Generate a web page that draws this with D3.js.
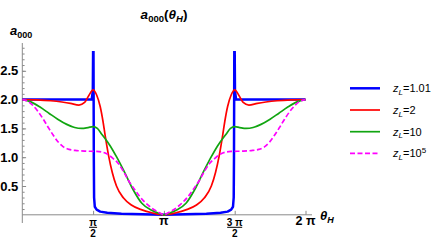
<!DOCTYPE html>
<html>
<head>
<meta charset="utf-8">
<script src="https://cdn.jsdelivr.net/npm/d3@7"></script>
<style>
  body { margin: 0; background: #fff; }
  text { font-family: "Liberation Sans", Arial, sans-serif; fill: #000; }
</style>
</head>
<body>
<svg width="442" height="245"></svg>
<script>
// theta is stored in units of pi (0..2)
var blueT  = [0, 0.49, 0.498, 0.502, 0.505, 0.507, 0.512, 0.525, 0.55, 0.6, 0.7, 0.85, 1.0,
              1.15, 1.3, 1.4, 1.45, 1.475, 1.488, 1.493, 1.495, 1.498, 1.502, 1.51, 2.0];
var blueV  = [2.0, 2.0, 2.15, 3.5, 1.0, 0.3, 0.14, 0.09, 0.055, 0.035, 0.02, 0.008, 0.0,
              0.008, 0.02, 0.035, 0.055, 0.09, 0.14, 0.3, 1.0, 3.5, 2.15, 2.0, 2.0];

var redT   = [0, 0.1, 0.2, 0.28, 0.34, 0.4, 0.44, 0.47, 0.5, 0.525, 0.55, 0.57, 0.585, 0.61, 0.635, 0.665, 0.715, 0.77, 0.845, 0.915, 1.0,
              1.085, 1.155, 1.23, 1.285, 1.335, 1.365, 1.39, 1.415, 1.43, 1.45, 1.475, 1.5, 1.53, 1.56, 1.6, 1.66, 1.72, 1.8, 1.9, 2.0];
var redV   = [2.0, 1.995, 1.98, 1.958, 1.935, 1.905, 1.95, 2.07, 2.17, 2.08, 1.88, 1.62, 1.38, 1.02, 0.74, 0.5, 0.29, 0.17, 0.085, 0.035, 0.0,
              0.035, 0.085, 0.17, 0.29, 0.5, 0.74, 1.02, 1.38, 1.62, 1.88, 2.08, 2.17, 2.07, 1.95, 1.905, 1.935, 1.958, 1.98, 1.995, 2.0];

var greenT = [0, 0.06, 0.125, 0.19, 0.25, 0.314, 0.37, 0.42, 0.465, 0.5, 0.53, 0.561, 0.62, 0.667, 0.726, 0.784, 0.844, 0.914, 0.95, 1.0,
              1.05, 1.086, 1.156, 1.216, 1.274, 1.333, 1.38, 1.439, 1.47, 1.5, 1.535, 1.58, 1.63, 1.686, 1.75, 1.81, 1.875, 1.94, 2.0];
var greenV = [2.0, 1.96, 1.87, 1.76, 1.66, 1.57, 1.515, 1.5, 1.515, 1.53, 1.5, 1.4, 1.2, 1.0, 0.72, 0.43, 0.2, 0.08, 0.04, 0.0,
              0.04, 0.08, 0.2, 0.43, 0.72, 1.0, 1.2, 1.4, 1.5, 1.53, 1.515, 1.5, 1.515, 1.57, 1.66, 1.76, 1.87, 1.96, 2.0];

var magT   = [0, 0.04, 0.078, 0.115, 0.148, 0.185, 0.219, 0.255, 0.29, 0.33, 0.384, 0.45, 0.526, 0.56, 0.596, 0.64, 0.678, 0.715, 0.749, 0.79, 0.832, 0.902, 0.973, 1.0,
              1.027, 1.098, 1.168, 1.21, 1.251, 1.285, 1.322, 1.36, 1.404, 1.44, 1.474, 1.55, 1.616, 1.67, 1.71, 1.745, 1.781, 1.815, 1.852, 1.885, 1.922, 1.96, 2.0];
var magV   = [2.0, 1.97, 1.89, 1.78, 1.66, 1.51, 1.38, 1.26, 1.18, 1.135, 1.115, 1.105, 1.1, 1.09, 1.06, 0.98, 0.89, 0.75, 0.6, 0.45, 0.31, 0.14, 0.03, 0.0,
              0.03, 0.14, 0.31, 0.45, 0.6, 0.75, 0.89, 0.98, 1.06, 1.09, 1.1, 1.105, 1.115, 1.135, 1.18, 1.26, 1.38, 1.51, 1.66, 1.78, 1.89, 1.97, 2.0];

var yTicks = [0.5, 1.0, 1.5, 2.0, 2.5];
var yMinor = d3.range(1, 30).map(function(i) { return i / 10; });
var xTicks = [0.5, 1, 1.5, 2];
var xTickNum = ["\u03C0", "\u03C0", "3 \u03C0", "2 \u03C0"];
var xTickDen = ["2", "", "2", ""];

var legendLabels = ["1.01", "2", "10", "10"];
var legendSup = ["", "", "", "5"];

var series = [
  {t: blueT,  v: blueV,  color: "#0000ff", width: 2.5, dash: null, curve: d3.curveLinear},
  {t: redT,   v: redV,   color: "#ff0000", width: 1.7, dash: null, curve: d3.curveMonotoneX},
  {t: greenT, v: greenV, color: "#11a511", width: 1.7, dash: null, curve: d3.curveMonotoneX},
  {t: magT,   v: magV,   color: "#ff00ff", width: 1.7, dash: "5,2.5", curve: d3.curveMonotoneX}
];

var svg = d3.select("svg");

var x = d3.scaleLinear().domain([0, 2]).range([22.3, 305.5]),
    y = d3.scaleLinear().domain([0, 2.5]).range([214.8, 70.8]);

var axisColor = "#8a8a8a";

// clip for the spike
svg.append("clipPath").attr("id", "clip")
  .append("rect")
    .attr("x", x(0) - 2).attr("y", 51)
    .attr("width", x(2) - x(0) + 4).attr("height", 180);

// y axis
var gy = svg.append("g").attr("transform", "translate(" + x(0) + ",0)");
gy.append("line")
    .attr("y1", 43).attr("y2", 223)
    .attr("stroke", axisColor);
gy.append("g")
    .call(d3.axisLeft(y).tickValues(yMinor).tickSize(-2.3).tickFormat(""))
    .call(function(g) { g.select(".domain").remove(); })
    .selectAll("line").attr("stroke", axisColor);
gy.append("g")
    .call(d3.axisLeft(y).tickValues(yTicks).tickSize(-3.8).tickPadding(4).tickFormat(d3.format(".1f")))
    .call(function(g) { g.select(".domain").remove(); })
    .call(function(g) {
      g.selectAll("line").attr("stroke", axisColor);
      g.selectAll("text")
        .style("font-family", "'Liberation Sans', Arial, sans-serif")
        .style("font-size", "13px")
        .style("font-weight", "bold")
        .attr("fill", "#000");
    });

// x axis
var gx = svg.append("g").attr("transform", "translate(0," + y(0) + ")");
gx.append("line")
    .attr("x1", x(0)).attr("x2", 312)
    .attr("stroke", axisColor);
gx.append("g")
    .call(d3.axisBottom(x).tickValues(xTicks).tickSize(-4).tickFormat(""))
    .call(function(g) { g.select(".domain").remove(); })
    .selectAll("line").attr("stroke", axisColor);

var xl = svg.append("g").selectAll("g")
    .data(xTicks)
  .enter().append("g")
    .attr("transform", function(d) { return "translate(" + x(d) + ",0)"; });

xl.each(function(d, i) {
  var g = d3.select(this);
  if (xTickDen[i]) {
    g.append("text")
        .attr("text-anchor", "middle").attr("y", 225.5)
        .style("font-size", "10px").style("font-weight", "bold")
        .text(xTickNum[i]);
    g.append("line")
        .attr("x1", i == 0 ? -4 : -7.5).attr("x2", i == 0 ? 4 : 7.5)
        .attr("y1", 227.3).attr("y2", 227.3)
        .attr("stroke", "#000").attr("stroke-width", 1);
    g.append("text")
        .attr("text-anchor", "middle").attr("y", 236.7)
        .style("font-size", "10px").style("font-weight", "bold")
        .text(xTickDen[i]);
  } else {
    g.append("text")
        .attr("text-anchor", "middle").attr("y", 225.3)
        .style("font-size", "12.5px").style("font-weight", "bold")
        .text(xTickNum[i]);
  }
});

// curves
var plot = svg.append("g").attr("clip-path", "url(#clip)");
series.forEach(function(s) {
  var pts = s.t.map(function(t, i) { return [t, s.v[i]]; });
  plot.append("path")
      .datum(pts)
      .attr("fill", "none")
      .attr("stroke", s.color)
      .attr("stroke-width", s.width)
      .attr("stroke-linejoin", "round")
      .attr("stroke-dasharray", s.dash)
      .attr("d", d3.line()
        .curve(s.curve)
        .x(function(d) { return x(d[0]); })
        .y(function(d) { return y(d[1]); }));
});

// title
var title = svg.append("text")
    .attr("x", 164).attr("y", 18.5)
    .attr("text-anchor", "middle")
    .style("font-size", "13.5px").style("font-weight", "bold");
title.append("tspan").style("font-style", "italic").text("a");
title.append("tspan").style("font-size", "9.5px").attr("dy", 3).text("000");
title.append("tspan").attr("dy", -3).text("(");
title.append("tspan").style("font-style", "italic").text("\u03B8");
title.append("tspan").style("font-size", "9.5px").style("font-style", "italic").attr("dy", 3).text("H");
title.append("tspan").attr("dy", -3).text(")");

// axis labels
var yLab = svg.append("text")
    .attr("x", 10).attr("y", 35)
    .style("font-size", "13px").style("font-weight", "bold");
yLab.append("tspan").style("font-style", "italic").text("a");
yLab.append("tspan").style("font-size", "9px").attr("dy", 2.5).text("000");

var xLab = svg.append("text")
    .attr("x", 320).attr("y", 220)
    .style("font-size", "13px").style("font-weight", "bold").style("font-style", "italic");
xLab.append("tspan").text("\u03B8");
xLab.append("tspan").style("font-size", "9px").attr("dy", 3).text("H");

// legend
var leg = svg.append("g").selectAll("g")
    .data(series)
  .enter().append("g")
    .attr("transform", function(d, i) { return "translate(350," + (88.3 + i * 21.7) + ")"; });

leg.append("line")
    .attr("x1", 0).attr("x2", 30)
    .attr("stroke", function(d) { return d.color; })
    .attr("stroke-width", function(d) { return d.width; })
    .attr("stroke-dasharray", function(d) { return d.dash; });

var lt = leg.append("text")
    .attr("x", 43).attr("y", 4)
    .style("font-size", "11px");
lt.append("tspan").style("font-style", "italic").text("z");
lt.append("tspan").style("font-style", "italic").style("font-size", "8px").attr("dy", 2.5).text("L");
lt.append("tspan").attr("dy", -2.5).text(function(d, i) { return "=" + legendLabels[i]; });
lt.append("tspan").style("font-size", "8px").attr("dy", -4.5).text(function(d, i) { return legendSup[i]; });
</script>
</body>
</html>
